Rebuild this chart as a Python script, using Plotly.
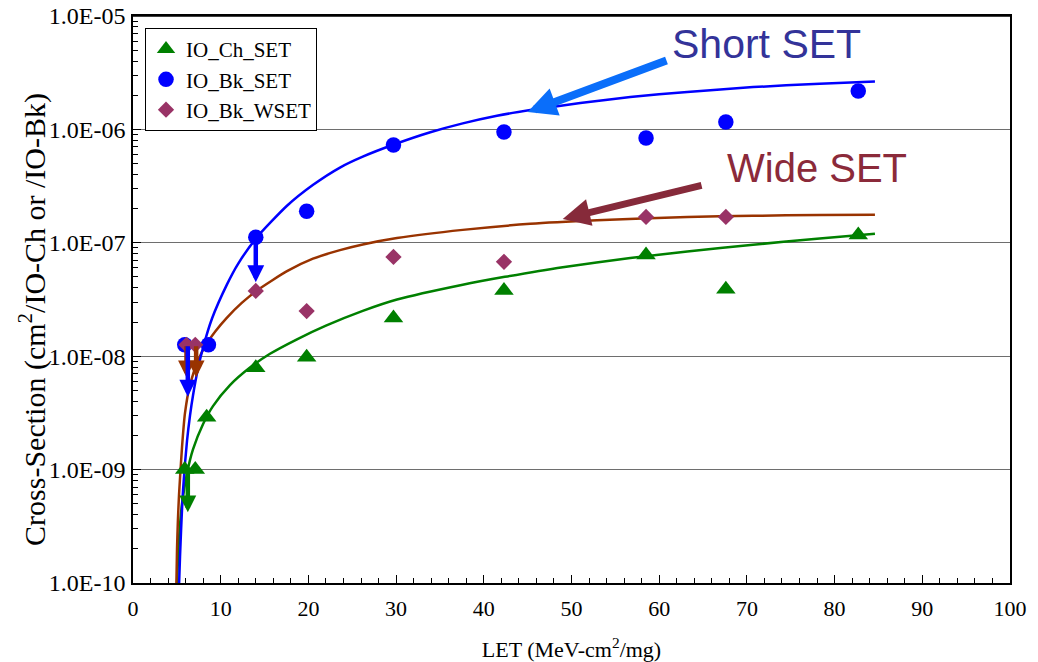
import math
import plotly.graph_objects as go

# ---------------- data ----------------
ch_x = [5.9, 7.1, 8.4, 14.0, 19.8, 29.7, 42.3, 58.5, 67.6, 82.7]
ch_y = [1.0e-9, 1.0e-9, 2.9e-9, 7.9e-9, 9.8e-9, 2.17e-8, 3.8e-8, 7.8e-8, 3.9e-8, 1.17e-7]

bk_x = [5.9, 8.6, 14.0, 19.8, 29.7, 42.3, 58.5, 67.6, 82.7]
bk_y = [1.26e-8, 1.26e-8, 1.12e-7, 1.9e-7, 7.3e-7, 9.5e-7, 8.4e-7, 1.16e-6, 2.18e-6]

wk_x = [6.1, 7.1, 14.0, 19.8, 29.7, 42.3, 58.5, 67.6]
wk_y = [1.26e-8, 1.26e-8, 3.76e-8, 2.5e-8, 7.5e-8, 6.8e-8, 1.69e-7, 1.69e-7]

# fitted curves
bk_fit_x = [5.26, 5.36, 5.7, 6.16, 6.5, 6.84, 7.4, 8.0, 9.0, 10.72, 12.0, 14.14, 17.56, 20.5,
            23.6, 26.2, 29.9, 33.9, 37.6, 41.5, 45.3, 51.0, 56.7, 63.2, 70.7, 78.3, 84.6]
bk_fit_y = [1.0e-10, 1.7e-10, 6.5e-10, 1.79e-9, 3.0e-9, 4.5e-9, 7.7e-9, 1.2e-8, 2.14e-8,
            4.3e-8, 6.56e-8, 1.12e-7, 2.12e-7, 3.23e-7, 4.61e-7, 5.75e-7, 7.43e-7, 9.44e-7,
            1.13e-6, 1.32e-6, 1.48e-6, 1.71e-6, 1.93e-6, 2.14e-6, 2.36e-6, 2.53e-6, 2.64e-6]

ch_fit_x = [5.02, 5.15, 5.3, 5.59, 6.16, 6.84, 7.98, 9.12, 11.06, 13.34, 15.62, 18.7, 22.0,
            26.2, 30.1, 37.6, 42.4, 49.0, 56.7, 63.2, 70.7, 78.3, 84.6]
ch_fit_y = [1.0e-10, 1.78e-10, 2.82e-10, 5.0e-10, 9.3e-10, 1.51e-9, 2.51e-9, 3.63e-9, 5.56e-9,
            7.94e-9, 1.05e-8, 1.41e-8, 1.86e-8, 2.51e-8, 3.16e-8, 4.27e-8, 5.01e-8, 6.1e-8,
            7.33e-8, 8.38e-8, 9.62e-8, 1.09e-7, 1.20e-7]

wk_fit_x = [4.95, 5.02, 5.12, 5.25, 5.59, 5.93, 6.5, 7.41, 8.21, 9.4, 10.72, 12.4, 14.14,
            17.56, 20.52, 23.6, 26.2, 30.1, 37.6, 45.3, 52.9, 63.2, 70.7, 78.3, 84.6]
wk_fit_y = [1.0e-10, 2.0e-10, 3.55e-10, 6.03e-10, 1.58e-9, 3.16e-9, 5.62e-9, 9.12e-9, 1.22e-8,
            1.66e-8, 2.19e-8, 2.95e-8, 3.80e-8, 5.62e-8, 7.24e-8, 8.61e-8, 9.66e-8, 1.10e-7,
            1.30e-7, 1.47e-7, 1.58e-7, 1.69e-7, 1.73e-7, 1.76e-7, 1.77e-7]

# upper-limit arrows (x, from, to)
lim_x = [6.1, 7.2, 6.25, 6.25, 14.0]
lim_from = [1.26e-8, 1.26e-8, 1.26e-8, 1.0e-9, 1.12e-7]
lim_to = [6.5e-9, 6.5e-9, 4.4e-9, 4.2e-10, 4.5e-8]
lim_series = ["wk", "wk", "bk", "ch", "bk"]

y_tick_vals = [1e-10, 1e-9, 1e-8, 1e-7, 1e-6, 1e-5]
y_tick_text = ["1.0E-10", "1.0E-09", "1.0E-08", "1.0E-07", "1.0E-06", "1.0E-05"]

# ---------------- styles ----------------
GREEN = "#008000"
BLUE = "#0000FF"
BROWN = "#993300"
PLUM = "#993366"
SERIF = "Liberation Serif, Times New Roman, serif"
SANS = "Liberation Sans, Arial, sans-serif"
lim_color = {"wk": BROWN, "bk": BLUE, "ch": GREEN}

fig = go.Figure()

for fx, fy, col in [(ch_fit_x, ch_fit_y, GREEN), (wk_fit_x, wk_fit_y, BROWN), (bk_fit_x, bk_fit_y, BLUE)]:
    fig.add_trace(go.Scatter(x=fx, y=fy, mode="lines",
                             line=dict(color=col, width=2.5, shape="spline", smoothing=0.6),
                             showlegend=False, hoverinfo="skip"))

fig.add_trace(go.Scatter(x=ch_x, y=ch_y, mode="markers", name="IO_Ch_SET",
                         marker=dict(symbol="triangle-up", size=17, color=GREEN)))
fig.add_trace(go.Scatter(x=bk_x, y=bk_y, mode="markers", name="IO_Bk_SET",
                         marker=dict(symbol="circle", size=15.5, color=BLUE)))
fig.add_trace(go.Scatter(x=wk_x, y=wk_y, mode="markers", name="IO_Bk_WSET",
                         marker=dict(symbol="diamond", size=12.5, color=PLUM)))

annotations = []
for xv, y0, y1, s in zip(lim_x, lim_from, lim_to, lim_series):
    annotations.append(dict(x=xv, y=math.log10(y1), ax=xv, ay=math.log10(y0), xref="x", yref="y",
                            axref="x", ayref="y", showarrow=True, arrowhead=2, arrowsize=0.75,
                            arrowwidth=4.5, arrowcolor=lim_color[s], text="", standoff=0, startstandoff=0))

annotations.append(dict(x=45.0, y=-5.847, ax=61.0, ay=-5.388, xref="x", yref="y", axref="x", ayref="y",
                        showarrow=True, arrowhead=2, arrowsize=0.72, arrowwidth=8, arrowcolor="#0A6EFA", text=""))
annotations.append(dict(x=49.0, y=-6.79, ax=65.0, ay=-6.49, xref="x", yref="y", axref="x", ayref="y",
                        showarrow=True, arrowhead=2, arrowsize=0.78, arrowwidth=7, arrowcolor="#862A3A", text=""))
annotations.append(dict(x=72.2, y=-5.2425, xref="x", yref="y", text="Short SET", showarrow=False,
                        font=dict(family=SANS, size=41, color="#333399"), xanchor="center", yanchor="middle"))
annotations.append(dict(x=78.0, y=-6.336, xref="x", yref="y", text="Wide SET", showarrow=False,
                        font=dict(family=SANS, size=40, color="#8B2A3A"), xanchor="center", yanchor="middle"))
# y-axis title (placed like the original, slightly below the plot centre)
annotations.append(dict(x=0, y=0.464, xref="paper", yref="paper", xshift=-100, textangle=-90,
                        text="Cross-Section (cm<sup>2</sup>/IO-Ch or /IO-Bk)", showarrow=False,
                        font=dict(family=SERIF, size=30, color="black"), xanchor="center", yanchor="middle"))

fig.update_layout(
    width=1038, height=662,
    margin=dict(l=133, r=28, t=16, b=79),
    paper_bgcolor="white", plot_bgcolor="white",
    font=dict(family=SERIF, color="black"),
    showlegend=True,
    legend=dict(x=0.0137, y=0.979, xanchor="left", yanchor="top", bgcolor="white",
                bordercolor="black", borderwidth=1, font=dict(family=SERIF, size=21, color="black"),
                itemwidth=30, tracegroupgap=0),
    annotations=annotations,
    shapes=[dict(type="line", xref="paper", yref="paper", x0=0, x1=1, y0=1, y1=1,
                 line=dict(color="black", width=1.5), layer="above")],
)

fig.update_xaxes(range=[0, 100], dtick=10, tick0=0, showline=True, linecolor="black", linewidth=1.5,
                 mirror=True, ticks="inside", ticklen=8, tickcolor="black", showgrid=False, zeroline=False,
                 automargin=False, ticklabeloverflow="allow",
                 tickfont=dict(family=SERIF, size=22, color="black"), ticklabelstandoff=5,
                 minor=dict(dtick=2, ticks="inside", ticklen=5, tickcolor="black", showgrid=False),
                 title=dict(text="LET (MeV-cm<sup>2</sup>/mg)", font=dict(family=SERIF, size=22, color="black"),
                            standoff=22))

fig.update_yaxes(type="log", range=[-10, -5], tickmode="array", tickvals=y_tick_vals, ticktext=y_tick_text,
                 showline=True, linecolor="black", linewidth=1.5, mirror=True, ticks="inside", ticklen=8,
                 tickcolor="black", showgrid=True, gridcolor="#6e6e6e", gridwidth=1, zeroline=False,
                 automargin=False, ticklabeloverflow="allow",
                 tickfont=dict(family=SERIF, size=24, color="black"), ticklabelstandoff=1,
                 minor=dict(dtick="D1", ticks="inside", ticklen=5, tickcolor="black", showgrid=False))

# remove the page's default 8px body margin so the figure sits at the window's top-left corner
fig.write_html("out.html", config={"displayModeBar": False},
               post_script="document.body.style.margin='0px';")
